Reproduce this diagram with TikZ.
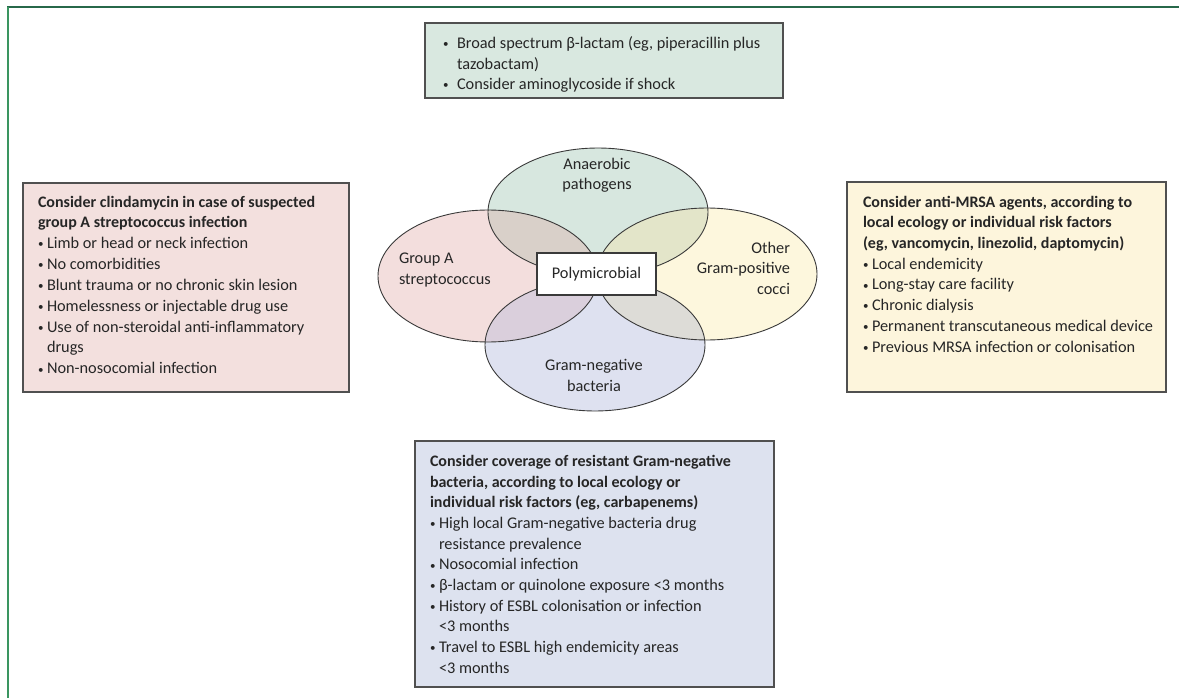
\documentclass[tikz,border=0pt]{standalone}
\usepackage{fontspec}
\setmainfont{Carlito}
\definecolor{textc}{HTML}{262626}
\definecolor{frameA}{HTML}{27684A}
\definecolor{frameB}{HTML}{3A9560}
\definecolor{boxline}{HTML}{505050}
\definecolor{elline}{HTML}{3A3A3A}
\definecolor{cTop}{HTML}{D7E7DF}
\definecolor{cLeft}{HTML}{F3DEDD}
\definecolor{cRight}{HTML}{FDF7DD}
\definecolor{cBot}{HTML}{DEE1F0}
\definecolor{oTL}{HTML}{D9D0C9}
\definecolor{oTR}{HTML}{E3E5C9}
\definecolor{oBL}{HTML}{DACFDC}
\definecolor{oBR}{HTML}{DDDCD7}
\definecolor{bTop}{HTML}{D9E8E0}
\definecolor{bLeft}{HTML}{F3E0DE}
\definecolor{bRight}{HTML}{FDF5DC}
\definecolor{bBot}{HTML}{DDE2EF}
\newcommand\mydot{\raisebox{0.8pt}{\fontsize{11}{11}\selectfont •}}
\newcommand\myb{\makebox[9pt][l]{\mydot}}
\newcommand\mybt{\makebox[14pt][l]{\mydot}}
\begin{document}
\begin{tikzpicture}[x=1pt,y=-1pt,
  txt/.style={font=\fontsize{16.3}{20}\selectfont, text=textc, inner sep=0pt, outer sep=0pt},
  ttl/.style={font=\fontsize{16}{20}\selectfont\bfseries, text=textc, inner sep=0pt, outer sep=0pt},
  boxnode/.style={draw=boxline, line width=1.2pt, minimum width=#1, inner sep=0pt, outer sep=0pt, anchor=north west},
  ell/.style={draw=elline, line width=0.9pt}
]
\useasboundingbox (0,0) rectangle (1179,698);
% frame
\draw[frameA, line width=1.5pt] (7,7) -- (1179,7);
\draw[frameB, line width=1.5pt] (8,7) -- (8,698);

% boxes
\node[boxnode=358pt, minimum height=75pt, fill=bTop] (topbox) at (425,23) {};
\node[boxnode=326pt, minimum height=209pt, fill=bLeft] (leftbox) at (23,183) {};
\node[boxnode=319pt, minimum height=210pt, fill=bRight] (rightbox) at (847,182) {};
\node[boxnode=359pt, minimum height=246pt, fill=bBot] (botbox) at (415,441) {};

% ellipses
\def\Etop{(598,212) ellipse [x radius=110, y radius=64]}
\def\Ebot{(595,345) ellipse [x radius=110, y radius=66]}
\def\Eleft{(488,276) ellipse [x radius=110, y radius=66]}
\def\Eright{(707,274) ellipse [x radius=110, y radius=66]}
\fill[cTop] \Etop;
\fill[cBot] \Ebot;
\fill[cLeft] \Eleft;
\fill[cRight] \Eright;
\begin{scope}\clip \Etop; \fill[oTL] \Eleft; \fill[oTR] \Eright; \end{scope}
\begin{scope}\clip \Ebot; \fill[oBL] \Eleft; \fill[oBR] \Eright; \end{scope}
\draw[ell] \Etop;
\draw[ell] \Ebot;
\draw[ell] \Eleft;
\draw[ell] \Eright;

\node[draw=elline, line width=1.2pt, fill=white, minimum width=119pt, minimum height=42pt, inner sep=0pt, txt] (poly) at (596.5,274) {Polymicrobial};

% ellipse labels
\node[txt, anchor=base] (an1) at (597,169.5) {Anaerobic};
\node[txt, anchor=base] (an2) at (597,189.5) {pathogens};
\node[txt, anchor=base west] (ga1) at (399,263.8) {Group A};
\node[txt, anchor=base west] (ga2) at (399,284.8) {streptococcus};
\node[txt, anchor=base east] (ot1) at (790,253.8) {Other};
\node[txt, anchor=base east] (ot2) at (790,273.8) {Gram-positive};
\node[txt, anchor=base east] (ot3) at (790,294.5) {cocci};
\node[txt, anchor=base] (gn1) at (594,370.8) {Gram-negative};
\node[txt, anchor=base] (gn2) at (594,391) {bacteria};

% top box text
\foreach \t [count=\i from 0] in {
  {\mybt Broad spectrum β-lactam (eg, piperacillin plus},
  {\hspace{14pt}tazobactam)},
  {\mybt Consider aminoglycoside if shock}}
  \node[txt, anchor=base west] (tt\i) at (443,48.8+20.3*\i) {\t};

% left box text
\foreach \t [count=\i from 0] in {
  {Consider clindamycin in case of suspected},
  {group A streptococcus infection}}
  \node[ttl, anchor=base west] (lh\i) at (38,207.1+20.84*\i) {\t};
\foreach \t [count=\i from 2] in {
  {\myb Limb or head or neck infection},
  {\myb No comorbidities},
  {\myb Blunt trauma or no chronic skin lesion},
  {\myb Homelessness or injectable drug use},
  {\myb Use of non-steroidal anti-inflammatory},
  {\hspace{9pt}drugs},
  {\myb Non-nosocomial infection}}
  \node[txt, anchor=base west] (lt\i) at (38,207.1+20.84*\i) {\t};

% right box text
\foreach \t [count=\i from 0] in {
  {Consider anti-MRSA agents, according to},
  {local ecology or individual risk factors},
  {(eg, vancomycin, linezolid, daptomycin)}}
  \node[ttl, anchor=base west] (rh\i) at (863,207.1+20.7*\i) {\t};
\foreach \t [count=\i from 3] in {
  {\myb Local endemicity},
  {\myb Long-stay care facility},
  {\myb Chronic dialysis},
  {\myb Permanent transcutaneous medical device},
  {\myb Previous MRSA infection or colonisation}}
  \node[txt, anchor=base west] (rt\i) at (863,207.1+20.7*\i) {\t};

% bottom box text
\foreach \t [count=\i from 0] in {
  {Consider coverage of resistant Gram-negative},
  {bacteria, according to local ecology or},
  {individual risk factors (eg, carbapenems)}}
  \node[ttl, anchor=base west] (bh\i) at (430,466.5+20.66*\i) {\t};
\foreach \t [count=\i from 3] in {
  {\myb High local Gram-negative bacteria drug},
  {\hspace{9pt}resistance prevalence},
  {\myb Nosocomial infection},
  {\myb β-lactam or quinolone exposure <3 months},
  {\myb History of ESBL colonisation or infection},
  {\hspace{9pt}<3 months},
  {\myb Travel to ESBL high endemicity areas},
  {\hspace{9pt}<3 months}}
  \node[txt, anchor=base west] (bt\i) at (430,466.5+20.66*\i) {\t};
\end{tikzpicture}
\end{document}
